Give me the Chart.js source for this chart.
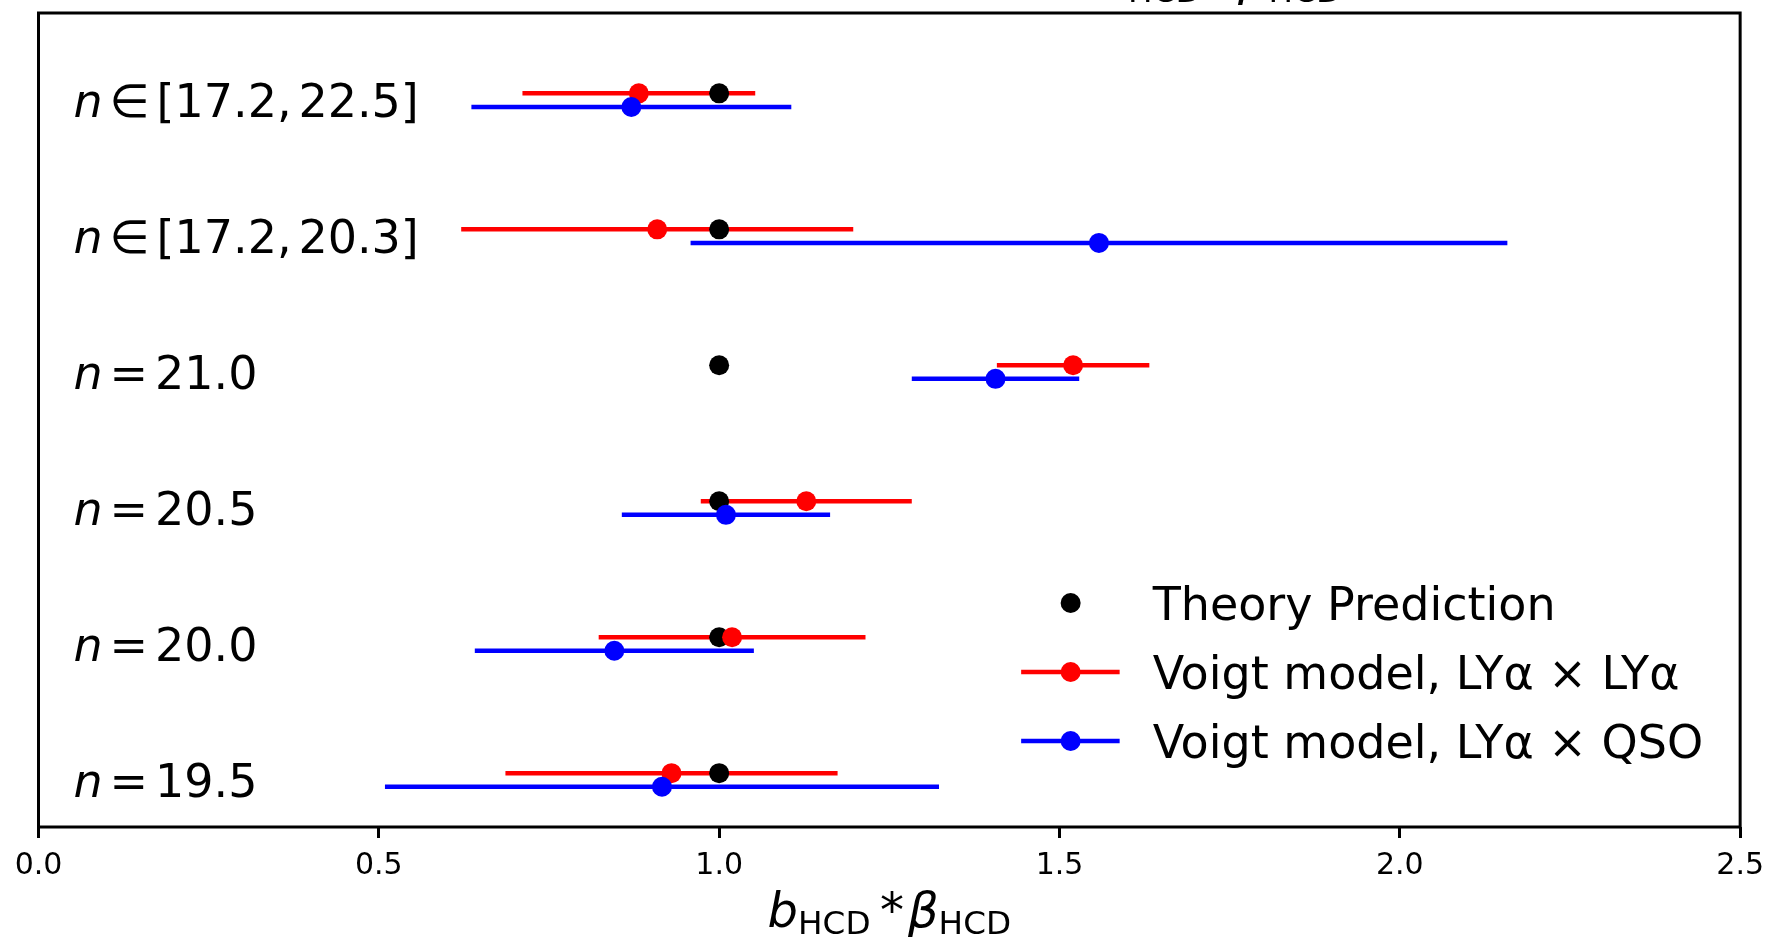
<!DOCTYPE html>
<html>
<head>
<meta charset="utf-8">
<script src="https://cdn.jsdelivr.net/npm/chart.js@4.4.1/dist/chart.umd.min.js"></script>
<style>
html, body { margin: 0; padding: 0; background: #fff; }
#wrap { width: 1767px; height: 937px; }
</style>
</head>
<body>
<div id="wrap"><canvas id="mycanvas" width="1767" height="937"></canvas></div>
<script>
// rows, bottom to top
var rowLabels = ['n = 19.5', 'n = 20.0', 'n = 20.5', 'n = 21.0', 'n ∈ [17.2, 20.3]', 'n ∈ [17.2, 22.5]'];
var theory = [1.0, 1.0, 1.0, 1.0, 1.0, 1.0];
var lyaLya = [0.930, 1.019, 1.128, 1.520, 0.909, 0.882];
var lyaLyaErr = [0.244, 0.196, 0.155, 0.112, 0.288, 0.171];
var lyaQso = [0.916, 0.846, 1.010, 1.406, 1.558, 0.871];
var lyaQsoErr = [0.407, 0.205, 0.153, 0.123, 0.600, 0.235];
var xTicks = [0.0, 0.5, 1.0, 1.5, 2.0, 2.5];
var seriesNames = ['Theory Prediction', 'Voigt model, LYα × LYα', 'Voigt model, LYα × QSO'];
var seriesColors = ['black', 'red', 'blue'];

var FONT = '"DejaVu Sans", sans-serif';

function pts(vals, shift) {
	return vals.map(function(v, i) { return {x: v, y: i + shift}; });
}

// draw a small piece of "math" text: parts = [{t, it, sub, gap}]
function mathParts(ctx, parts, size) {
	var w = 0;
	parts.forEach(function(p) {
		var s = p.sub ? size * 0.68 : size;
		ctx.font = (p.it ? 'italic ' : '') + s + 'px ' + FONT;
		p._w = ctx.measureText(p.t).width;
		p._s = s;
		w += p._w + (p.gap || 0) * size;
	});
	return w;
}
function drawMath(ctx, parts, x, base, size) {
	parts.forEach(function(p) {
		ctx.font = (p.it ? 'italic ' : '') + p._s + 'px ' + FONT;
		ctx.fillText(p.t, x, p.sub ? base + size * 0.15 : base);
		x += p._w + (p.gap || 0) * size;
	});
}
function labelParts() {
	return [
		{t: 'b', it: true},
		{t: 'HCD', sub: true, gap: 0.2},
		{t: '*', gap: 0.08},
		{t: 'β', it: true},
		{t: 'HCD', sub: true}
	];
}

var errorBars = {
	id: 'errorBars',
	beforeDatasetsDraw: function(chart) {
		var ctx = chart.ctx, a = chart.chartArea;
		var xs = chart.scales.x, ys = chart.scales.y;
		ctx.save();
		ctx.beginPath();
		ctx.rect(a.left, a.top, a.right - a.left, a.bottom - a.top);
		ctx.clip();
		chart.data.datasets.forEach(function(ds) {
			if (!ds.errors) return;
			ctx.strokeStyle = ds.backgroundColor;
			ctx.lineWidth = 4.5;
			ds.data.forEach(function(p, i) {
				var y = ys.getPixelForValue(p.y);
				ctx.beginPath();
				ctx.moveTo(xs.getPixelForValue(p.x - ds.errors[i]), y);
				ctx.lineTo(xs.getPixelForValue(p.x + ds.errors[i]), y);
				ctx.stroke();
			});
		});
		ctx.restore();
	}
};

var decorations = {
	id: 'decorations',
	afterDraw: function(chart) {
		var ctx = chart.ctx, a = chart.chartArea;
		var ys = chart.scales.y;
		ctx.save();
		ctx.fillStyle = 'black';
		ctx.textBaseline = 'alphabetic';
		ctx.textAlign = 'left';

		// frame
		ctx.strokeStyle = 'black';
		ctx.lineWidth = 3;
		ctx.strokeRect(a.left, a.top, a.right - a.left, a.bottom - a.top);

		// row labels inside the axes
		var fs = 46;
		rowLabels.forEach(function(lab, i) {
			var tok = lab.split(' ');
			var parts = tok.map(function(t, k) {
				return {t: t, it: k === 0, gap: k < tok.length - 1 ? 0.15 : 0};
			});
			mathParts(ctx, parts, fs);
			drawMath(ctx, parts, a.left + 35, ys.getPixelForValue(i) + fs * 0.36, fs);
		});

		// legend
		var lx = a.right - 669.5, ly = 603, ldy = 69, lfs = 46;
		for (var k = 0; k < 3; k++) {
			var y = ly + k * ldy;
			ctx.fillStyle = seriesColors[k];
			ctx.strokeStyle = seriesColors[k];
			if (k > 0) {
				ctx.lineWidth = 4.5;
				ctx.beginPath();
				ctx.moveTo(lx - 49.5, y);
				ctx.lineTo(lx + 49, y);
				ctx.stroke();
			}
			ctx.beginPath();
			ctx.arc(lx, y, 10, 0, Math.PI * 2);
			ctx.fill();
			ctx.fillStyle = 'black';
			ctx.font = lfs + 'px ' + FONT;
			ctx.fillText(seriesNames[k], lx + 82, y + lfs * 0.364);
		}

		// x axis label
		var xfs = 48;
		var parts = labelParts();
		var w = mathParts(ctx, parts, xfs);
		var cx = (a.left + a.right) / 2;
		drawMath(ctx, parts, cx - w / 2, 927, xfs);

		// clipped title above the figure
		var tp = labelParts();
		w = mathParts(ctx, tp, xfs);
		drawMath(ctx, tp, cx + 330 - w / 2, -5, xfs);

		ctx.restore();
	}
};

var chartdata = {
	datasets: [
		{
			label: seriesNames[0],
			data: pts(theory, 0.05),
			backgroundColor: seriesColors[0],
			pointRadius: 10,
			borderWidth: 0,
			order: 3
		},
		{
			label: seriesNames[1],
			data: pts(lyaLya, 0.05),
			errors: lyaLyaErr,
			backgroundColor: seriesColors[1],
			pointRadius: 10,
			borderWidth: 0,
			order: 2
		},
		{
			label: seriesNames[2],
			data: pts(lyaQso, -0.05),
			errors: lyaQsoErr,
			backgroundColor: seriesColors[2],
			pointRadius: 10,
			borderWidth: 0,
			order: 1
		}
	]
};

var ctx = document.getElementById('mycanvas');
var chart = new Chart(ctx, {
	type: 'scatter',
	data: chartdata,
	plugins: [errorBars, decorations],
	options: {
		responsive: false,
		animation: false,
		events: [],
		devicePixelRatio: 1,
		layout: { padding: { left: 38.5, right: 26.5, top: 13, bottom: 42 } },
		plugins: {
			legend: { display: false },
			tooltip: { enabled: false }
		},
		scales: {
			x: {
				type: 'linear',
				min: 0,
				max: 2.5,
				afterBuildTicks: function(scale) {
					scale.ticks = xTicks.map(function(v) { return {value: v}; });
				},
				ticks: {
					color: 'black',
					font: { family: FONT, size: 30, lineHeight: 1.7 },
					padding: 3,
					maxRotation: 0,
					autoSkip: false,
					callback: function(v) { return Number(v).toFixed(1); }
				},
				grid: {
					display: true,
					drawOnChartArea: false,
					drawTicks: true,
					tickLength: 11,
					tickWidth: 3,
					tickColor: 'black'
				},
				border: { display: false }
			},
			y: {
				type: 'linear',
				min: -0.346,
				max: 5.641,
				display: false
			}
		}
	}
});
</script>
</body>
</html>
